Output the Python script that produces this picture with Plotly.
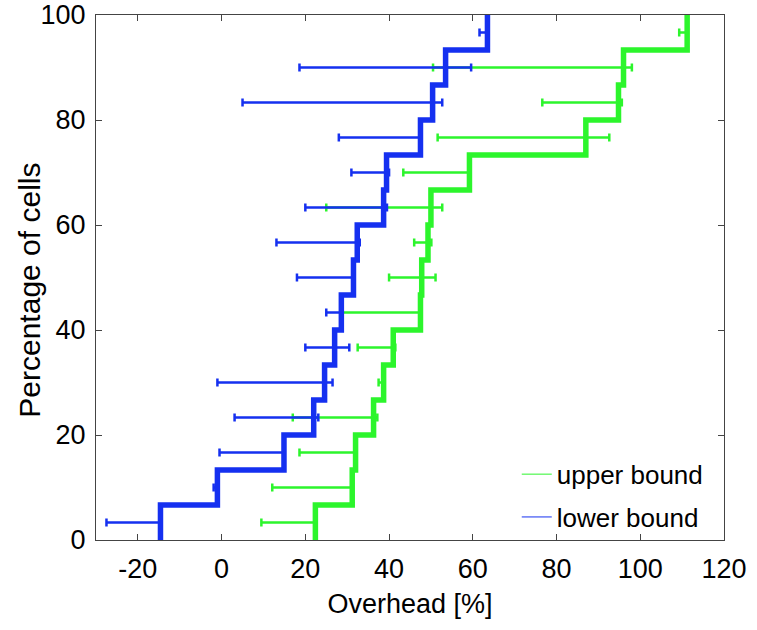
import plotly.graph_objects as go

# Cumulative percentage of cells reached at each step (15 cells)
cdf_pct = [6.67, 13.33, 20.0, 26.67, 33.33, 40.0, 46.67, 53.33, 60.0,
           66.67, 73.33, 80.0, 86.67, 93.33, 100.0]
# Vertical position of each cell's error bar (middle of its step)
bar_pct = [3.33, 10.0, 16.67, 23.33, 30.0, 36.67, 43.33, 50.0, 56.67,
           63.33, 70.0, 76.67, 83.33, 90.0, 96.67]

# Upper-bound overhead [%] per cell, sorted, with error range
upper_x = [22.4, 31.2, 32.0, 36.3, 38.7, 41.0, 47.5, 47.8, 49.3, 50.0,
           59.2, 87.0, 94.8, 96.0, 111.2]
upper_lo = [9.5, 12.1, 18.6, 17.0, 37.5, 32.5, 28.4, 40.0, 46.0, 25.0,
            43.4, 51.6, 76.6, 50.5, 109.3]
upper_hi = [22.4, 31.2, 32.0, 37.2, 38.7, 41.5, 47.5, 51.1, 50.1, 52.7,
            59.2, 92.6, 95.6, 98.0, 111.2]

# Lower-bound overhead [%] per cell, sorted, with error range
lower_x = [-14.6, -1.0, 14.9, 22.0, 24.6, 27.0, 28.6, 31.5, 32.4, 38.7,
           39.4, 47.5, 50.4, 53.5, 63.5]
lower_lo = [-27.5, -1.9, -0.5, 3.1, -1.0, 20.0, 25.0, 18.0, 13.1, 20.0,
            31.0, 28.0, 5.0, 18.6, 61.6]
lower_hi = [-14.6, -1.0, 14.9, 23.1, 26.5, 30.5, 28.6, 31.5, 33.0, 39.5,
            40.0, 47.5, 52.7, 59.6, 63.5]

x_ticks = [-20, 0, 20, 40, 60, 80, 100, 120]
x_ticktext = ["-20", "0", "20", "40", "60", "80", "100", "120"]
y_ticks = [0, 20, 40, 60, 80, 100]

GREEN = "#2cf52c"
BLUE = "#1530f0"
FONT = "Liberation Sans, Arial, sans-serif"

fig = go.Figure()


def add_series(xs, lo, hi, color, name):
    # error bars around each cell's value
    fig.add_trace(go.Scatter(
        x=xs, y=bar_pct, mode="markers",
        marker=dict(size=1, color="rgba(0,0,0,0)"),
        error_x=dict(type="data", symmetric=False,
                     array=[max(h - x, 0) for x, h in zip(xs, hi)],
                     arrayminus=[max(x - l, 0) for x, l in zip(xs, lo)],
                     color=color, thickness=2.5, width=4),
        showlegend=False, hoverinfo="skip"))
    # cumulative step curve
    fig.add_trace(go.Scatter(
        x=[xs[0]] + xs, y=[0] + cdf_pct, mode="lines",
        line=dict(color=color, width=5.5, shape="hv"),
        showlegend=False, name=name))


add_series(upper_x, upper_lo, upper_hi, GREEN, "upper bound")
add_series(lower_x, lower_lo, lower_hi, BLUE, "lower bound")

# thin legend samples
for nm, col, grp in [("upper bound", GREEN, "a"), ("lower bound", BLUE, "b")]:
    fig.add_trace(go.Scatter(x=[None], y=[None], mode="lines",
                             line=dict(color=col, width=1), name=nm,
                             legendgroup=grp))

axis_common = dict(showline=True, linecolor="#444", linewidth=1, mirror="ticks",
                   ticks="inside", ticklen=6, tickcolor="#444", showgrid=False,
                   zeroline=False, automargin=False, ticklabeloverflow="allow",
                   tickfont=dict(family=FONT, size=27, color="black"))

fig.update_layout(
    width=757, height=630,
    margin=dict(l=96, r=33, t=15, b=90),
    plot_bgcolor="white", paper_bgcolor="white",
    font=dict(family=FONT, size=26, color="black"),
    showlegend=True,
    legend=dict(x=0.67, y=0.17, xanchor="left", yanchor="top",
                bgcolor="rgba(0,0,0,0)", borderwidth=0, itemwidth=30,
                tracegroupgap=6, traceorder="grouped",
                font=dict(family=FONT, size=26, color="black")),
    xaxis=dict(range=[-30, 120], tickvals=x_ticks, ticktext=x_ticktext,
               ticklabelstandoff=5,
               title=dict(text="Overhead [%]", font=dict(family=FONT, size=27), standoff=10),
               **axis_common),
    yaxis=dict(range=[0, 100], tickvals=y_ticks, ticklabelstandoff=4,
               **axis_common),
    annotations=[dict(text="Percentage of cells", textangle=-90,
                      xref="paper", yref="paper", x=-0.105, y=0.475,
                      xanchor="center", yanchor="middle", showarrow=False,
                      font=dict(family=FONT, size=30, color="black"))],
)

fig.write_html("out.html")
